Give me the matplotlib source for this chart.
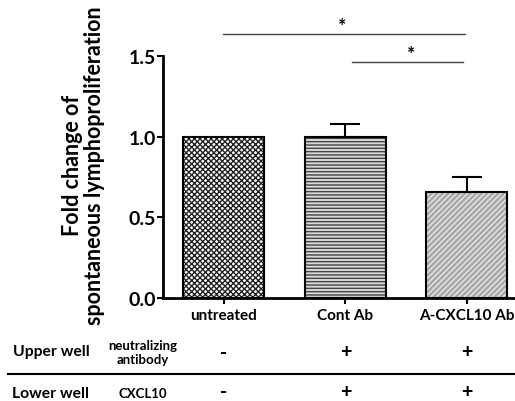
import matplotlib
matplotlib.use('Agg')
import matplotlib.pyplot as plt

plt.rcParams['font.family'] = ['Lato', 'DejaVu Sans']
plt.rcParams['hatch.linewidth'] = 1.0

# datos
grupos = ['untreated', 'Cont Ab', 'A-CXCL10 Ab']
valores = [1.0, 0.995, 0.654]
errores = [0.0, 0.085, 0.093]
fila_upper = ['-', '+', '+']
fila_lower = ['-', '+', '+']
yticks = [0.0, 0.5, 1.0, 1.5]

fig = plt.figure(figsize=(5.15, 4.02), dpi=100)
# eje en pixeles: x 163..515, y 57(1.5)..299(0)
W, H = 515, 402
ax = fig.add_axes([163 / W, (H - 299) / H, (515 - 163) / W, (299 - 57) / H])

x = [0.5, 1.5, 2.5]
hatches = ['xxxxxx', '-----', '//////']
faces = ['white', '#d8d8d8', '#a8a8a8']
hcols = ['#222222', '#444444', '#e8e8e8']
for i in range(3):
    ax.bar(x[i], valores[i], width=0.667, facecolor=faces[i],
           edgecolor=hcols[i], hatch=hatches[i], linewidth=0, zorder=2)
    ax.bar(x[i], valores[i], width=0.667, facecolor='none',
           edgecolor='black', linewidth=1.5, zorder=3)
    if errores[i] > 0:
        ax.errorbar(x[i], valores[i], yerr=[[0], [errores[i]]], color='black',
                    capsize=11, capthick=1.5, elinewidth=1.5, zorder=4)

ax.set_xlim(0.0, 2.897)
ax.set_ylim(0, 1.5)
ax.set_yticks(yticks)
ax.set_yticklabels(['0.0', '0.5', '1.0', '1.5'], fontsize=14, fontweight='bold')
ax.set_xticks(x)
ax.set_xticklabels(grupos, fontsize=11, fontweight='bold')
ax.tick_params(axis='y', length=4, width=1.5, pad=1)
ax.tick_params(axis='x', length=4, width=1.5, pad=3)
for s in ['top', 'right']:
    ax.spines[s].set_visible(False)
for s in ['left', 'bottom']:
    ax.spines[s].set_linewidth(2)

ax.set_ylabel('Fold change of\nspontaneous lymphoproliferation', fontsize=15.5,
              fontweight='bold', linespacing=1.05)
ax.yaxis.set_label_coords(-0.165, 0.55)

# significancia
ax.plot([0.49, 2.485], [1.636, 1.636], color='#444444', lw=1, clip_on=False)
ax.text(1.473, 1.655, '*', ha='center', va='baseline', fontsize=14, fontweight='bold')
ax.plot([1.555, 2.47], [1.463, 1.463], color='#444444', lw=1, clip_on=False)
ax.text(2.04, 1.482, '*', ha='center', va='baseline', fontsize=14, fontweight='bold')

# tabla inferior
def fy(py):
    return 1 - py / H

def fx(px):
    return px / W

fig.text(fx(51), fy(352), 'Upper well', ha='center', va='center', fontsize=11.3, fontweight='bold')
fig.text(fx(143), fy(353), 'neutralizing\nantibody', ha='center', va='center',
         fontsize=9.5, fontweight='bold', linespacing=1.1)
fig.text(fx(51), fy(394), 'Lower well', ha='center', va='center', fontsize=11.3, fontweight='bold')
fig.text(fx(143), fy(394), 'CXCL10', ha='center', va='center', fontsize=9.5, fontweight='bold')
cols = [224, 345.5, 467]
for c, u, l in zip(cols, fila_upper, fila_lower):
    fig.text(fx(c), fy(353), u, ha='center', va='center', fontsize=14, fontweight='black')
    fig.text(fx(c), fy(393), l, ha='center', va='center', fontsize=14, fontweight='black')
fig.add_artist(plt.Line2D([fx(8), fx(515)], [fy(375), fy(375)], color='black', lw=1.5))

fig.savefig('out.png', dpi=100)
